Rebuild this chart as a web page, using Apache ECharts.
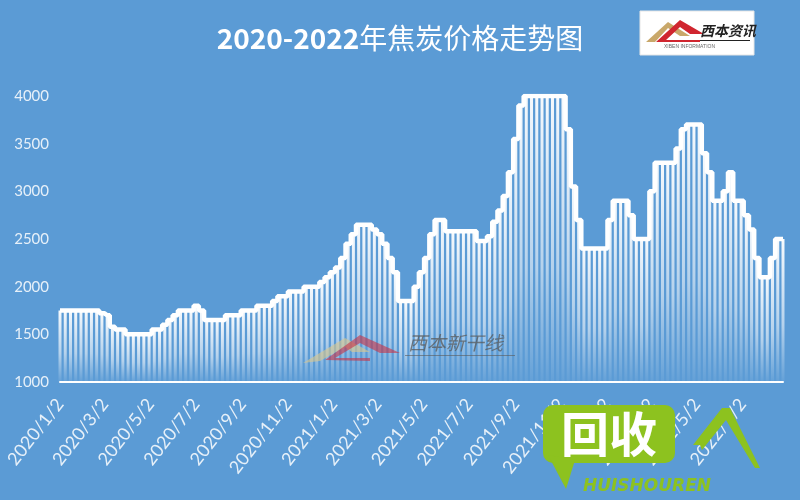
<!DOCTYPE html>
<html>
<head>
<meta charset="utf-8">
<script src="https://cdn.jsdelivr.net/npm/echarts@6/dist/echarts.min.js"></script>
<style>
html,body{margin:0;padding:0;background:#5B9BD5;}
#chart{width:800px;height:500px;}
</style>
</head>
<body>
<div id="chart"></div>
<script>
// Weekly readings of coke price (yuan/ton), starting 2020-01-02, one value per week
const startDate = [2020, 1, 2];
const prices = [
  1750,1750,1750,1750,1750,1750,1750,1750,1720,1700,
  1580,1550,1550,1500,1500,1500,1500,1500,1550,1550,
  1600,1650,1700,1750,1750,1750,1800,1750,1650,1650,
  1650,1650,1700,1700,1700,1750,1750,1750,1800,1800,
  1800,1850,1900,1900,1950,1950,1950,2000,2000,2000,
  2050,2100,2150,2200,2300,2450,2550,2650,2650,2650,
  2600,2550,2450,2300,2150,1850,1850,1850,2000,2150,
  2300,2550,2700,2700,2580,2580,2580,2580,2580,2580,
  2480,2480,2530,2680,2800,2950,3200,3550,3900,4000,
  4000,4000,4000,4000,4000,4000,4000,3650,3050,2700,
  2400,2400,2400,2400,2400,2700,2900,2900,2900,2750,
  2500,2500,2500,3000,3300,3300,3300,3300,3450,3650,
  3700,3700,3700,3400,3200,2900,2900,3000,3200,2900,
  2900,2750,2600,2300,2100,2100,2300,2500,2500
];
const tickLabels = ['2020/1/2','2020/3/2','2020/5/2','2020/7/2','2020/9/2','2020/11/2',
  '2021/1/2','2021/3/2','2021/5/2','2021/7/2','2021/9/2','2021/11/2',
  '2022/1/2','2022/3/2','2022/5/2','2022/7/2'];
const yTicks = [1000, 1500, 2000, 2500, 3000, 3500, 4000];
const titleYears = '2020-2022';
const titleWords = '年焦炭价格走势图';

function ts(y, m, d) { return new Date(y, m - 1, d).getTime(); }
const DAY = 86400000;
const t0 = ts(startDate[0], startDate[1], startDate[2]);
const weeks = prices.map((_, i) => t0 + i * 7 * DAY);
const seriesData = prices.map((v, i) => [weeks[i], v]);
const tickValues = tickLabels.map(s => { const p = s.split('/').map(Number); return ts(p[0], p[1], p[2]); });

const chart = echarts.init(document.getElementById('chart'));
const labelColor = 'rgba(255,255,255,0.85)';
chart.setOption({
  backgroundColor: '#5B9BD5',
  animation: false,
  title: {
    text: '{a|' + titleYears + '}{b|' + titleWords + '}',
    left: 'center',
    top: 19,
    textStyle: {
      rich: {
        a: { color: '#ffffff', fontSize: 28, fontWeight: 'bold', fontFamily: '"Noto Sans CJK SC", sans-serif' },
        b: { color: '#ffffff', fontSize: 28, fontWeight: 'normal', fontFamily: '"Noto Sans CJK SC", sans-serif' }
      }
    }
  },
  grid: { left: 60, right: 17, top: 96, bottom: 118 },
  xAxis: {
    type: 'value',
    min: t0,
    max: weeks[weeks.length - 1],
    axisLine: { show: true, onZero: false, lineStyle: { color: '#ffffff', width: 2 } },
    axisTick: { show: false },
    splitLine: { show: false },
    axisLabel: {
      customValues: tickValues,
      rotate: 52,
      margin: 19,
      color: labelColor,
      fontSize: 18,
      fontFamily: 'Lato, "Open Sans", sans-serif',
      hideOverlap: false,
      formatter: function (v) { const d = new Date(v); return d.getFullYear() + '/' + (d.getMonth() + 1) + '/' + d.getDate(); }
    }
  },
  yAxis: {
    type: 'value',
    min: yTicks[0],
    max: yTicks[yTicks.length - 1],
    interval: 500,
    axisLine: { show: false },
    axisTick: { show: false },
    splitLine: { show: false },
    axisLabel: { color: labelColor, fontSize: 15, margin: 11, fontFamily: 'Lato, "Open Sans", sans-serif', formatter: function (v) { return String(v); } }
  },
  series: [
    {
      type: 'bar',
      data: seriesData,
      barWidth: 3,
      itemStyle: {
        color: new echarts.graphic.LinearGradient(0, 0, 0, 1, [
          { offset: 0, color: 'rgba(255,255,255,0.95)' },
          { offset: 0.6, color: 'rgba(255,255,255,0.55)' },
          { offset: 1, color: 'rgba(255,255,255,0.05)' }
        ])
      },
      z: 2
    },
    {
      type: 'line',
      data: seriesData,
      step: 'middle',
      showSymbol: false,
      lineStyle: { color: '#ffffff', width: 4.5 },
      z: 3
    }
  ],
  graphic: [
    { type: 'rect', shape: { x: 640, y: 11, width: 114, height: 44 }, style: { fill: '#ffffff', stroke: '#e6e6e6' }, z: 10 },
    { type: 'polygon', shape: { points: [[646, 42], [668, 22], [690, 36], [680, 36], [668, 28], [655, 42]] }, style: { fill: '#c9a86a' }, z: 11 },
    { type: 'polygon', shape: { points: [[656, 42], [680, 20], [704, 34], [690, 34], [680, 27], [666, 40], [700, 40], [700, 42]] }, style: { fill: '#d0262f' }, z: 11 },
    { type: 'text', style: { x: 700, y: 24, text: '西本资讯', fill: '#222', font: 'italic bold 14px "Noto Sans CJK SC"' }, z: 12 },
    { type: 'rect', shape: { x: 700, y: 40, width: 50, height: 1 }, style: { fill: '#222' }, z: 12 },
    { type: 'text', style: { x: 664, y: 44, text: 'XIBEN INFORMATION', fill: '#666', font: '5px sans-serif' }, z: 12 },
    { type: 'polygon', shape: { points: [[303, 363], [345, 338], [370, 352], [352, 352], [345, 347], [320, 361]] }, style: { fill: 'rgba(220,200,140,0.6)' }, z: 5 },
    { type: 'polygon', shape: { points: [[325, 360], [360, 335], [400, 353], [380, 353], [360, 343], [335, 358], [370, 358], [370, 361]] }, style: { fill: 'rgba(200,50,70,0.6)' }, z: 5 },
    { type: 'text', style: { x: 408, y: 333, text: '西本新干线', fill: 'rgba(90,90,90,0.75)', font: 'italic 19px "Noto Sans CJK SC"' }, z: 5 },
    { type: 'rect', shape: { x: 405, y: 355, width: 110, height: 1 }, style: { fill: 'rgba(90,90,90,0.6)' }, z: 5 },
    { type: 'rect', shape: { x: 543, y: 405, width: 132, height: 58, r: 10 }, style: { fill: '#8dc21f' }, z: 20 },
    { type: 'polygon', shape: { points: [[548, 455], [575, 460], [566, 489]] }, style: { fill: '#8dc21f' }, z: 20 },
    { type: 'text', style: { x: 609, y: 434, text: '回收', fill: '#ffffff', font: 'bold 48px "Noto Sans CJK SC"', align: 'center', verticalAlign: 'middle' }, z: 21 },
    { type: 'polygon', shape: { points: [[693, 445], [722, 408], [730, 408], [760, 468], [755, 468], [726, 420], [702, 450], [700, 445]] }, style: { fill: '#8dc21f' }, z: 20 },
    { type: 'text', style: { x: 647, y: 487, text: 'HUISHOUREN', fill: '#8dc21f', font: 'italic bold 17px "DejaVu Sans"', align: 'center', verticalAlign: 'middle' }, z: 20 }
  ]
});
</script>
</body>
</html>
